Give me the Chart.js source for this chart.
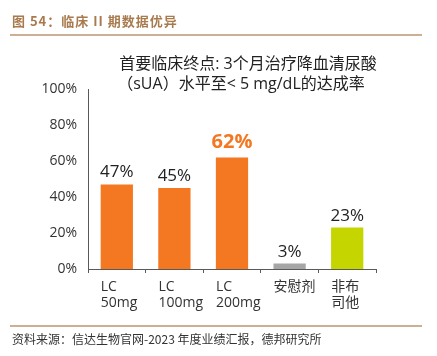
<!DOCTYPE html>
<html>
<head>
<meta charset="utf-8">
<script src="https://cdn.jsdelivr.net/npm/chart.js@4"></script>
<style>
  html, body { margin: 0; padding: 0; background: #ffffff; }
  #c { display: block; }
</style>
</head>
<body>
<canvas id="c" width="437" height="356"></canvas>
<script>
// ---- data ----
const categories = [["LC", "50mg"], ["LC", "100mg"], ["LC", "200mg"], ["安慰剂"], ["非布", "司他"]];
const values = [47, 45, 62, 3, 23];
const valueLabels = ["47%", "45%", "62%", "3%", "23%"];
const highlightIndex = 2;
const yTickValues = [0, 20, 40, 60, 80, 100];
const headerText = "图 54：临床 II 期数据优异";
const titleLines = ["首要临床终点: 3个月治疗降血清尿酸", "（sUA）水平至< 5 mg/dL的达成率"];
const footerText = "资料来源：信达生物官网-2023 年度业绩汇报，德邦研究所";

// ---- styles ----
const barColors = ["#F47721", "#F47721", "#F47721", "#A6A6A6", "#C5D500"];
const LATIN = '"Open Sans", "Noto Sans CJK SC", sans-serif';
const CJK = '"Noto Sans CJK SC", sans-serif';

const decor = {
  id: 'decor',
  afterDraw(chart) {
    const ctx = chart.ctx;
    ctx.save();
    // header
    ctx.fillStyle = '#A97A4E';
    ctx.font = 'bold 13px ' + CJK;
    ctx.letterSpacing = '1px';
    ctx.textAlign = 'left';
    ctx.textBaseline = 'middle';
    ctx.fillText(headerText, 12, 21);
    ctx.letterSpacing = '0px';
    ctx.strokeStyle = '#BC9470';
    ctx.lineWidth = 1.5;
    ctx.beginPath(); ctx.moveTo(10, 35); ctx.lineTo(422, 35); ctx.stroke();
    // footer
    ctx.beginPath(); ctx.moveTo(10, 326); ctx.lineTo(422, 326); ctx.stroke();
    ctx.fillStyle = '#333333';
    ctx.font = '12px ' + CJK;
    ctx.fillText(footerText, 12, 339);
    // title
    ctx.fillStyle = '#222222';
    ctx.font = '16px ' + LATIN;
    ctx.textAlign = 'center';
    ctx.fillText(titleLines[0], 248, 64);
    ctx.fillText(titleLines[1], 241, 84);
    // data labels
    const meta = chart.getDatasetMeta(0);
    ctx.textBaseline = 'alphabetic';
    meta.data.forEach((bar, i) => {
      if (i === highlightIndex) {
        ctx.font = 'bold 20px ' + LATIN;
        ctx.fillStyle = '#F47721';
        ctx.fillText(valueLabels[i], bar.x, bar.y - 9);
      } else {
        ctx.font = '17px ' + LATIN;
        ctx.fillStyle = '#222222';
        ctx.fillText(valueLabels[i], bar.x, bar.y - 7);
      }
    });
    ctx.restore();
  }
};

new Chart(document.getElementById('c'), {
  type: 'bar',
  data: {
    labels: categories,
    datasets: [{
      data: values,
      backgroundColor: barColors,
      borderWidth: 0,
      barPercentage: 0.56,
      categoryPercentage: 1.0
    }]
  },
  options: {
    responsive: false,
    animation: false,
    devicePixelRatio: 1,
    layout: { padding: { left: 0, top: 89, right: 61, bottom: 0 } },
    plugins: { legend: { display: false }, tooltip: { enabled: false }, title: { display: false } },
    scales: {
      x: {
        grid: { display: true, drawOnChartArea: false, drawTicks: true, tickLength: 4, color: '#595959', offset: true, lineWidth: 1 },
        border: { display: true, color: '#595959', width: 1 },
        ticks: {
          align: 'start',
          labelOffset: -16,
          padding: 6,
          maxRotation: 0,
          autoSkip: false,
          color: '#333333',
          font: { family: LATIN, size: 14, lineHeight: 1.15 }
        },
        afterFit(scale) { scale.height = 87; }
      },
      y: {
        min: 0,
        max: 100,
        afterBuildTicks(scale) { scale.ticks = yTickValues.map(v => ({ value: v })); },
        grid: { display: false, drawTicks: false },
        border: { display: true, color: '#595959', width: 1 },
        ticks: {
          padding: 11,
          color: '#333333',
          font: { family: LATIN, size: 14 },
          callback: (v) => v + '%'
        },
        afterFit(scale) { scale.width = 88; }
      }
    }
  },
  plugins: [decor]
});
</script>
</body>
</html>
